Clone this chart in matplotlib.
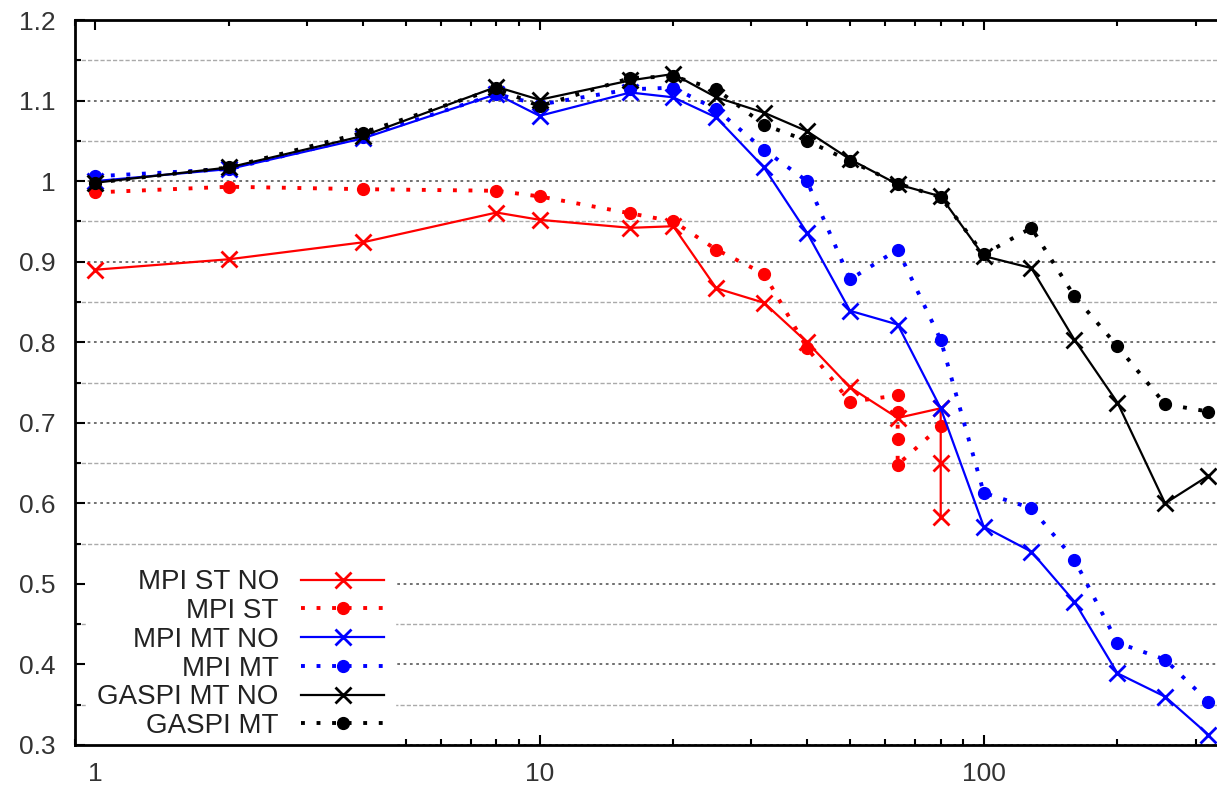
import matplotlib
matplotlib.use('Agg')
import matplotlib.pyplot as plt
from matplotlib.ticker import MultipleLocator, FixedLocator, NullFormatter, LogLocator

plt.rcParams['font.family'] = ['Liberation Sans', 'DejaVu Sans']

# thread / node counts
x_main = [1, 2, 4, 8, 10, 16, 20, 25, 32, 40, 50, 64, 80, 100, 128, 160, 200, 256, 320]

# MPI ST NO (stops at 80, several runs at 80)
x_mpi_st_no = [1, 2, 4, 8, 10, 16, 20, 25, 32, 40, 50, 64, 80, 80, 80]
y_mpi_st_no = [0.890, 0.903, 0.924, 0.961, 0.952, 0.942, 0.944, 0.867, 0.849, 0.800,
               0.744, 0.706, 0.718, 0.650, 0.583]

# MPI ST (several runs at 64)
x_mpi_st = [1, 2, 4, 8, 10, 16, 20, 25, 32, 40, 50, 64, 64, 64, 64, 80]
y_mpi_st = [0.986, 0.993, 0.990, 0.988, 0.981, 0.960, 0.950, 0.915, 0.885, 0.793,
            0.726, 0.734, 0.713, 0.680, 0.648, 0.696]

y_mpi_mt_no = [1.000, 1.015, 1.053, 1.108, 1.081, 1.110, 1.104, 1.079, 1.017, 0.936,
               0.839, 0.822, 0.718, 0.571, 0.540, 0.478, 0.389, 0.360, 0.313]
y_mpi_mt = [1.006, 1.015, 1.055, 1.108, 1.095, 1.114, 1.116, 1.089, 1.039, 1.000,
            0.878, 0.915, 0.803, 0.613, 0.594, 0.530, 0.427, 0.406, 0.354]
y_gaspi_mt_no = [0.998, 1.017, 1.056, 1.117, 1.101, 1.125, 1.133, 1.104, 1.085, 1.062,
                 1.027, 0.996, 0.981, 0.907, 0.892, 0.803, 0.725, 0.600, 0.634]
y_gaspi_mt = [0.998, 1.017, 1.060, 1.115, 1.093, 1.128, 1.130, 1.114, 1.070, 1.050,
              1.025, 0.997, 0.980, 0.909, 0.942, 0.857, 0.795, 0.723, 0.714]

labels = ['MPI ST NO', 'MPI ST', 'MPI MT NO', 'MPI MT', 'GASPI MT NO', 'GASPI MT']
y_ticks = [0.3, 0.4, 0.5, 0.6, 0.7, 0.8, 0.9, 1.0, 1.1, 1.2]
y_ticklabels = ['0.3', '0.4', '0.5', '0.6', '0.7', '0.8', '0.9', '1', '1.1', '1.2']

fig = plt.figure(figsize=(12.17, 7.85), dpi=100)
ax = fig.add_axes([75 / 1217, 40 / 785, 1 - 75 / 1217, 725 / 785])

dots = (0, (1, 3))
solid_kw = dict(linestyle='-', lw=1.6, marker='x', markersize=11, mew=2)
dot_kw = dict(linestyle=dots, lw=2.8, marker='o', markersize=8.5)

ax.plot(x_mpi_st_no, y_mpi_st_no, color='#ff0000', label=labels[0], **solid_kw)
ax.plot(x_mpi_st, y_mpi_st, color='#ff0000', label=labels[1], **dot_kw)
ax.plot(x_main, y_mpi_mt_no, color='#0000ff', label=labels[2], **solid_kw)
ax.plot(x_main, y_mpi_mt, color='#0000ff', label=labels[3], **dot_kw)
ax.plot(x_main, y_gaspi_mt_no, color='black', label=labels[4], **solid_kw)
ax.plot(x_main, y_gaspi_mt, color='black', label=labels[5], **dot_kw)

ax.set_xscale('log')
ax.set_xlim(0.9, 335)
ax.set_ylim(0.3, 1.2)
ax.xaxis.set_major_locator(FixedLocator([1, 10, 100]))
ax.xaxis.set_minor_locator(LogLocator(base=10, subs=range(2, 10)))
ax.xaxis.set_minor_formatter(NullFormatter())
ax.set_xticklabels(['1', '10', '100'])
ax.set_yticks(y_ticks)
ax.set_yticklabels(y_ticklabels)
ax.yaxis.set_minor_locator(MultipleLocator(0.05))

ax.tick_params(axis='both', which='both', direction='in', labelsize=19,
               labelcolor='#333333', width=1.5)
ax.tick_params(axis='x', which='both', top=True)
ax.tick_params(axis='x', which='major', length=7, pad=12)
ax.tick_params(axis='x', which='minor', length=4)
ax.tick_params(axis='y', which='major', length=7, pad=14)
ax.tick_params(axis='y', which='minor', length=4)

ax.grid(axis='y', which='major', color='#666666', linestyle=(0, (1.5, 2)), lw=1.3)
ax.grid(axis='y', which='minor', color='#aaaaaa', linestyle=(0, (3, 1.5)), lw=1.0)
ax.set_axisbelow(True)

for side in ['left', 'bottom', 'top']:
    ax.spines[side].set_linewidth(2)
ax.spines['right'].set_visible(False)

leg = ax.legend(loc='lower left', bbox_to_anchor=(0.005, -0.015), markerfirst=False,
                fontsize=20, frameon=True, fancybox=False, framealpha=1,
                edgecolor='white', handlelength=3.0, handletextpad=0.8,
                labelspacing=0.10, numpoints=1, borderaxespad=0.2)
leg.set_zorder(2.4)  # keep the spines drawn over the legend box
for t in leg.get_texts():
    t.set_ha('right')
    t.set_color('#222222')
leg._legend_box.align = 'right'

fig.savefig('out.png', dpi=100)
